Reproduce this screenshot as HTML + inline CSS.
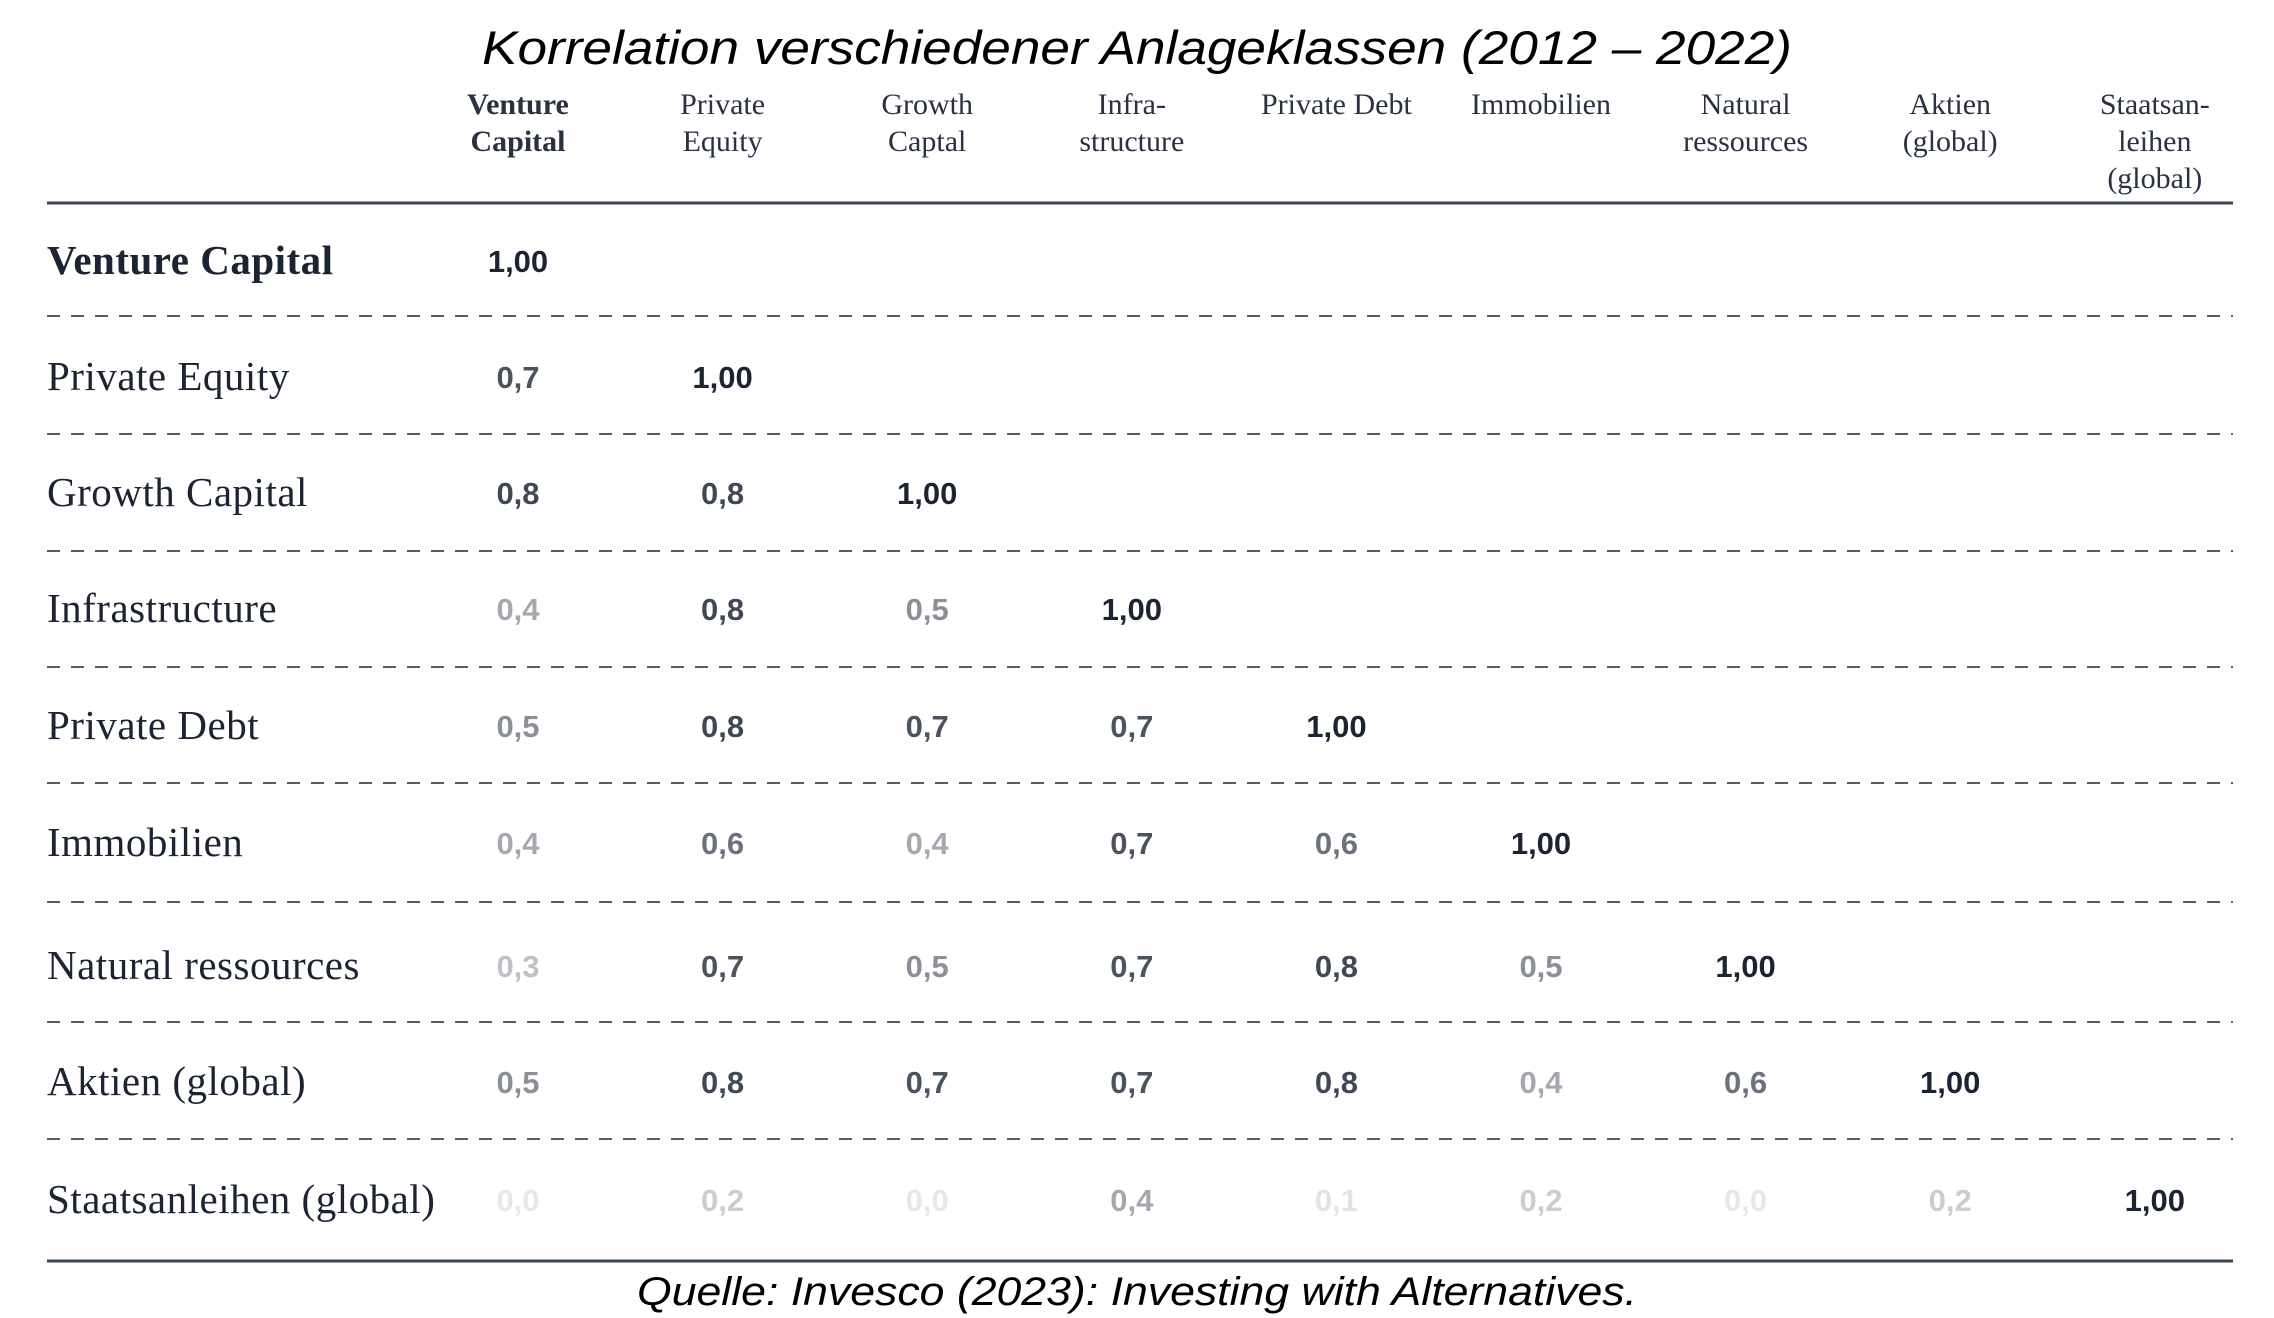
<!DOCTYPE html>
<html><head><meta charset="utf-8"><style>
html,body{margin:0;padding:0;background:#fff}
svg{display:block}
</style></head><body>
<svg id="c" width="2274" height="1318" viewBox="0 0 2274 1318">
<text x="1137" y="64" text-anchor="middle" font-family="Liberation Sans, sans-serif" font-style="italic" font-size="47" fill="#000" textLength="1310" lengthAdjust="spacingAndGlyphs">Korrelation verschiedener Anlageklassen (2012 – 2022)</text>
<line x1="47" y1="203" x2="2233" y2="203" stroke="#3a4352" stroke-width="3"/>
<line x1="47" y1="1261" x2="2233" y2="1261" stroke="#3a4352" stroke-width="3"/>
<text x="1137" y="1305" text-anchor="middle" font-family="Liberation Sans, sans-serif" font-style="italic" font-size="40" fill="#000" textLength="1000" lengthAdjust="spacingAndGlyphs">Quelle: Invesco (2023): Investing with Alternatives.</text>
<g id="g"></g>
</svg>
<script>
const rowLabels=["Venture Capital","Private Equity","Growth Capital","Infrastructure","Private Debt","Immobilien","Natural ressources","Aktien (global)","Staatsanleihen (global)"];
const colLabels=[["Venture","Capital"],["Private","Equity"],["Growth","Captal"],["Infra-","structure"],["Private Debt"],["Immobilien"],["Natural","ressources"],["Aktien","(global)"],["Staatsan-","leihen","(global)"]];
const r0=[1.00];
const r1=[0.7,1.00];
const r2=[0.8,0.8,1.00];
const r3=[0.4,0.8,0.5,1.00];
const r4=[0.5,0.8,0.7,0.7,1.00];
const r5=[0.4,0.6,0.4,0.7,0.6,1.00];
const r6=[0.3,0.7,0.5,0.7,0.8,0.5,1.00];
const r7=[0.5,0.8,0.7,0.7,0.8,0.4,0.6,1.00];
const r8=[0.0,0.2,0.0,0.4,0.1,0.2,0.0,0.2,1.00];
const rows=[r0,r1,r2,r3,r4,r5,r6,r7,r8];
const NS="http://www.w3.org/2000/svg";
const g=document.getElementById('g');
const colX=i=>518+i*204.6;
const rowY=[261,377,493,609,726,843,966,1082,1200];
const sepY=[316,434,551,667,783,902,1022,1139];
function col(v){
  if(v>=0.99) return '#1c2333';
  const m={8:'#404856',7:'#4b535f',6:'#6c727c',5:'#8b9098',4:'#a5a9af',3:'#bdc0c4',2:'#caccd0',1:'#e1e3e5',0:'#e6e7e9'};
  return m[Math.round(v*10)];
}
function t(x,y,s,attrs,name){
  const e=document.createElementNS(NS,'text');
  for(const k in attrs)e.setAttribute(k,attrs[k]);
  e.setAttribute('x',x);e.setAttribute('y',y);e.textContent=s;
  
  
  g.appendChild(e);return e;
}
colLabels.forEach((lines,i)=>{
  lines.forEach((ln,j)=>{
    t(colX(i),114+j*37,ln,{'text-anchor':'middle','font-family':'Liberation Serif, serif','font-size':'30','fill':'#2a3140','font-weight':i==0?'bold':'normal'},'column-header');
  });
});
sepY.forEach(y=>{
  const l=document.createElementNS(NS,'line');
  l.setAttribute('x1',47);l.setAttribute('x2',2233);l.setAttribute('y1',y);l.setAttribute('y2',y);
  l.setAttribute('stroke','#555c68');l.setAttribute('stroke-width','2');l.setAttribute('stroke-dasharray','13 11');
  
  
  g.appendChild(l);
});
rowLabels.forEach((lab,i)=>{
  t(47,rowY[i]+13,lab,{'font-family':'Liberation Serif, serif','font-size':'41','fill':'#1c2333','font-weight':i==0?'bold':'normal','letter-spacing':'0.5'},'row-label');
  rows[i].forEach((v,j)=>{
    t(colX(j),rowY[i]+11,v>=0.99?'1,00':v.toFixed(1).replace('.',','),{'text-anchor':'middle','font-family':'Liberation Sans, sans-serif','font-size':'31','font-weight':'bold','fill':col(v)},'correlation-value');
  });
});
</script>
</body></html>
